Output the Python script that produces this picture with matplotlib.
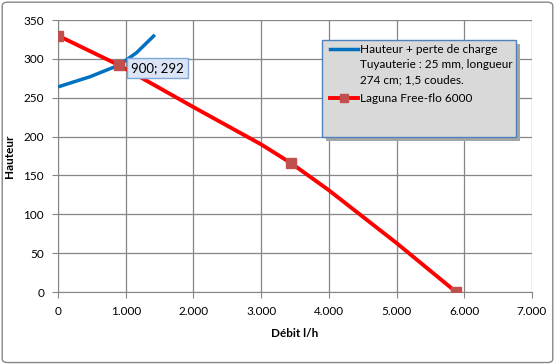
import matplotlib
matplotlib.use("Agg")
import matplotlib.pyplot as plt
from matplotlib.patches import FancyBboxPatch, Rectangle
from matplotlib.ticker import FuncFormatter

pump_x = [0, 900, 2000, 3000, 3440, 4000, 5000, 5880]
pump_y = [330, 292, 238, 190, 166, 131, 63, 0]
mark_x = [0, 900, 3440, 5880]
mark_y = [330, 292, 166, 0]

# system curve
pipe_x = [0, 470, 900, 1160, 1430]
pipe_y = [264, 277, 292, 308, 331]

x_ticks = [0, 1000, 2000, 3000, 4000, 5000, 6000, 7000]
y_ticks = [0, 50, 100, 150, 200, 250, 300, 350]

label_pipe = ["Hauteur + perte de charge", "Tuyauterie : 25 mm, longueur", "274 cm; 1,5 coudes."]
label_pump = "Laguna Free-flo 6000"

plt.rcParams['font.family'] = ['Lato', 'DejaVu Sans']
plt.rcParams['font.size'] = 8

fig = plt.figure(figsize=(5.55, 3.64), dpi=100)
fig.patches.append(FancyBboxPatch((0.004, 0.004), 0.992, 0.99, boxstyle="round,pad=0,rounding_size=0.01",
                                  transform=fig.transFigure, fc="white", ec="#868686", lw=1, zorder=-1))
ax = fig.add_axes([0.1045, 0.1978, 0.854, 0.747])

blue = "#0070c0"
red = "#ff0000"
mark = "#c0504d"
ax.plot(pipe_x, pipe_y, color=blue, lw=2.5, solid_capstyle="butt", zorder=3)
ax.plot(pump_x, pump_y, color=red, lw=2.8, zorder=4)
ax.plot(mark_x, mark_y, ls="none", marker="s", ms=7, mfc=mark, mec=mark, zorder=5)

ax.set_xlim(0, 7000)
ax.set_ylim(0, 350)
ax.set_xticks(x_ticks)
ax.set_yticks(y_ticks)
ax.xaxis.set_major_formatter(FuncFormatter(lambda v, p: "0" if v == 0 else f"{int(v):,}".replace(",", ".")))
ax.grid(True, color="#868686", lw=0.9)
ax.set_axisbelow(True)
for s in ["top", "right"]:
    ax.spines[s].set_visible(False)
for s in ["left", "bottom"]:
    ax.spines[s].set_color("#868686")
ax.tick_params(color="#868686", length=4, labelsize=8.5, pad=6)
ax.set_xlabel("Débit l/h", fontweight="bold", fontsize=8.5, labelpad=8)
ax.set_ylabel("Hauteur", fontweight="bold", fontsize=8.5, labelpad=6)

# data label
ax.annotate("900; 292", (900, 292), xytext=(9, -2), textcoords="offset points", va="center", ha="left",
            fontsize=9.5, zorder=6,
            bbox=dict(boxstyle="square,pad=0.3", fc="#dbe5f5", ec="#7ea6d8", lw=1))

# legend box with shadow, drawn by hand
x0, y0, w, h = 0.557, 0.570, 0.409, 0.356
ax.add_patch(Rectangle((x0 + 0.008, y0 - 0.014), w, h, transform=ax.transAxes, fc="#a6a6a6", ec="none",
                       zorder=6, clip_on=False))
ax.add_patch(Rectangle((x0, y0), w, h, transform=ax.transAxes, fc="#d9d9d9", ec="#4f81bd", lw=1,
                       zorder=7, clip_on=False))
hx = [0.574, 0.633]
tx = 0.637
rows = [0.893, 0.835, 0.779]
ax.plot(hx, [rows[0]] * 2, transform=ax.transAxes, color=blue, lw=2.5, zorder=8, clip_on=False)
for yy, txt in zip(rows, label_pipe):
    ax.text(tx, yy, txt, transform=ax.transAxes, va="center", ha="left", fontsize=8.5, zorder=8)
ax.plot(hx, [0.713] * 2, transform=ax.transAxes, color=red, lw=2.8, zorder=8, clip_on=False)
ax.plot([sum(hx) / 2], [0.713], transform=ax.transAxes, marker="s", ms=6, mfc=mark, mec=mark, zorder=9,
        clip_on=False)
ax.text(tx, 0.713, label_pump, transform=ax.transAxes, va="center", ha="left", fontsize=8.5, zorder=8)

fig.savefig("out.png", dpi=100)
